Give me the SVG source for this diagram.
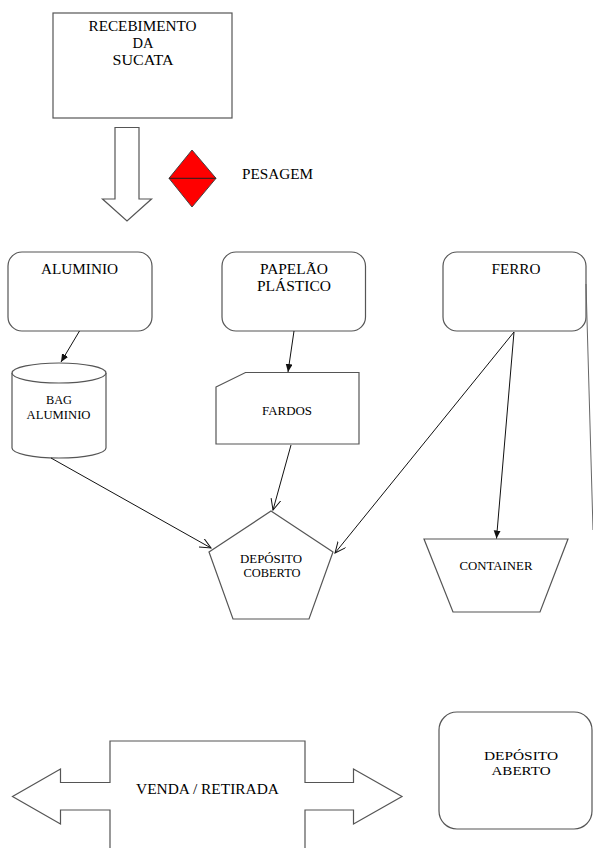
<svg xmlns="http://www.w3.org/2000/svg" width="593" height="848" viewBox="0 0 593 848" font-family="'Liberation Serif', 'Times New Roman', Times, serif">
<style>
text{fill:#000;text-anchor:middle}
.l{font-size:14.5px}
.m{font-size:13px}
.s{font-size:12px}
.sh{fill:#fff;stroke:#555;stroke-width:1.2}
.c{stroke:#111;stroke-width:1;fill:none}
</style>
<defs>
<marker id="f" markerUnits="userSpaceOnUse" markerWidth="10" markerHeight="8" refX="8" refY="3.5" orient="auto"><path d="M0,0 L8,3.5 L0,7 z" fill="#111"/></marker>
<marker id="o" markerUnits="userSpaceOnUse" markerWidth="14" markerHeight="12" refX="11" refY="5" orient="auto"><path d="M0,0 L11,5 L0,10" fill="none" stroke="#111" stroke-width="1"/></marker>
</defs>
<g id="recebimento"><rect class="sh" x="53" y="13" width="179" height="105"/>
<text class="l" x="142.5" y="31" textLength="108" lengthAdjust="spacingAndGlyphs">RECEBIMENTO</text>
<text class="l" x="143" y="48" textLength="21" lengthAdjust="spacingAndGlyphs">DA</text>
<text class="l" x="143" y="65" textLength="61" lengthAdjust="spacingAndGlyphs">SUCATA</text></g>
<g id="seta-baixo"><polygon class="sh" points="115,127.5 139,127.5 139,199 151.5,199 127,221 102.5,199 115,199"/></g>
<g id="pesagem"><polygon points="192,150 216,178.3 192,207 169,178.3" fill="#ff0000" stroke="#444" stroke-width="1"/><line x1="169" y1="178.3" x2="216" y2="178.3" stroke="#222" stroke-width="1"/>
<text class="l" x="277.5" y="178.5" textLength="71" lengthAdjust="spacingAndGlyphs">PESAGEM</text></g>
<g id="aluminio"><rect class="sh" x="8" y="252" width="144" height="79" rx="14"/>
<text class="l" x="79.5" y="274" textLength="77" lengthAdjust="spacingAndGlyphs">ALUMINIO</text></g>
<g id="papelao"><rect class="sh" x="222" y="252" width="143.5" height="79" rx="14"/>
<text class="l" x="294" y="273.5" textLength="68" lengthAdjust="spacingAndGlyphs">PAPELÃO</text>
<text class="l" x="294" y="290.5" textLength="74" lengthAdjust="spacingAndGlyphs">PLÁSTICO</text></g>
<g id="ferro"><rect class="sh" x="443" y="252" width="143" height="79" rx="14"/>
<text class="l" x="516" y="274" textLength="49" lengthAdjust="spacingAndGlyphs">FERRO</text></g>
<g id="bag"><path class="sh" d="M12,373 A47,10 0 0 1 106,373 L106,448 A47,10 0 0 1 12,448 Z"/><path class="sh" d="M12,373 A47,10 0 0 0 106,373" fill="none"/>
<text class="s" x="59" y="404" textLength="26" lengthAdjust="spacingAndGlyphs">BAG</text>
<text class="s" x="58.5" y="419" textLength="64" lengthAdjust="spacingAndGlyphs">ALUMINIO</text></g>
<g id="fardos"><polygon class="sh" points="216,387 245.5,372.5 359,372.5 359,444 216,444"/>
<text class="s" x="287" y="414.5" textLength="50" lengthAdjust="spacingAndGlyphs">FARDOS</text></g>
<g id="deposito-coberto"><polygon class="sh" points="271,511 333,552 309,619 233,619 209,552"/>
<text class="s" x="271" y="562.5" textLength="62" lengthAdjust="spacingAndGlyphs">DEPÓSITO</text>
<text class="s" x="272" y="576.5" textLength="57" lengthAdjust="spacingAndGlyphs">COBERTO</text></g>
<g id="container"><polygon class="sh" points="424,539 568,539 540,612 453,612"/>
<text class="s" x="496" y="570" textLength="73" lengthAdjust="spacingAndGlyphs">CONTAINER</text></g>
<g id="venda"><polyline class="sh" points="110,852 110,810 60.5,810 60.5,824 12.5,796.5 60.5,769 60.5,782.5 110,782.5 110,741 305,741 305,782.5 353.5,782.5 353.5,769 402,796.5 353.5,824 353.5,810 305,810 305,852"/>
<text class="l" x="207.5" y="793.5" textLength="143" lengthAdjust="spacingAndGlyphs">VENDA / RETIRADA</text></g>
<g id="deposito-aberto"><rect class="sh" x="439" y="712" width="153" height="117" rx="18"/>
<text class="m" x="521" y="760" textLength="74" lengthAdjust="spacingAndGlyphs">DEPÓSITO</text>
<text class="m" x="521" y="775" textLength="59" lengthAdjust="spacingAndGlyphs">ABERTO</text></g>
<g id="conectores">
<line class="c" x1="79.5" y1="331" x2="61" y2="362" marker-end="url(#f)"/>
<line class="c" x1="294" y1="331" x2="288" y2="372" marker-end="url(#f)"/>
<line class="c" x1="514" y1="332" x2="496.5" y2="538.5" marker-end="url(#f)"/>
<line class="c" x1="514" y1="332" x2="335" y2="553" marker-end="url(#o)"/>
<line class="c" x1="291" y1="445" x2="273" y2="510" marker-end="url(#o)"/>
<line class="c" x1="51" y1="458" x2="211" y2="548" marker-end="url(#o)"/>
<line x1="586" y1="284" x2="593" y2="530" stroke="#666" stroke-width="1"/>
</g>
</svg>
